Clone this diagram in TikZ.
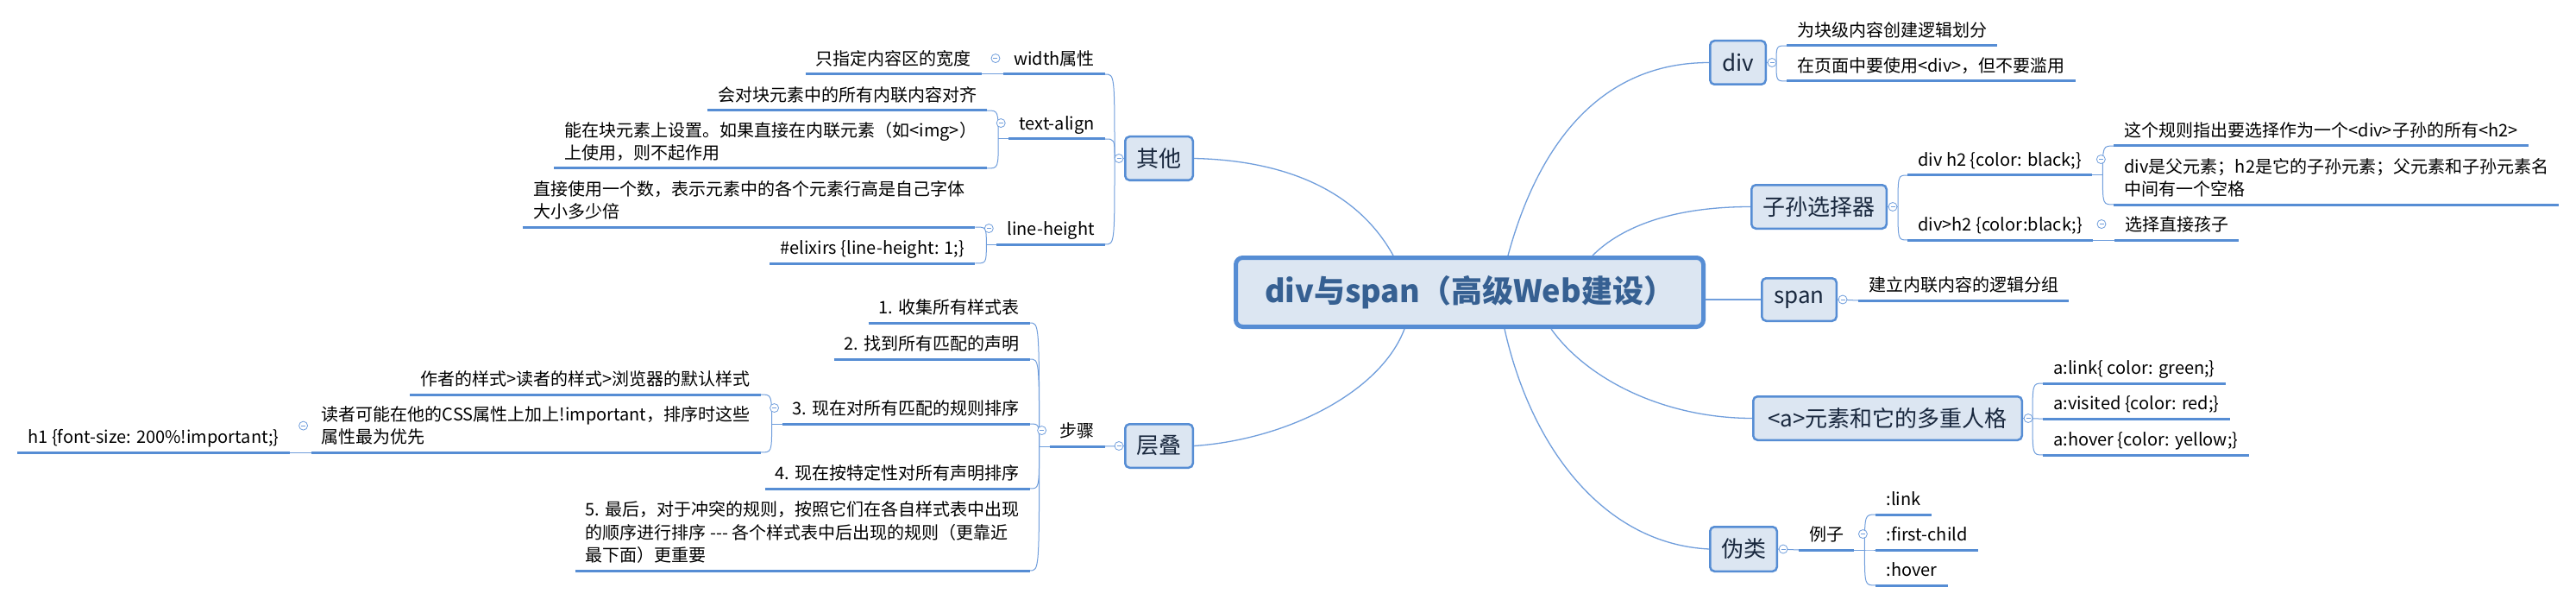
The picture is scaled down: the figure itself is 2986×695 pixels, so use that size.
\documentclass[tikz,border=0pt]{standalone}
\usepackage{fontspec}
\setmainfont{Noto Sans CJK SC}
\usetikzlibrary{calc}
\definecolor{ublue}{RGB}{86,141,212}
\definecolor{lblue}{RGB}{112,158,220}
\definecolor{boxfill}{RGB}{220,230,242}
\definecolor{ctext}{RGB}{54,96,146}
\definecolor{mtext}{RGB}{25,40,62}
\begin{document}
\begin{tikzpicture}[x=1pt,y=-1pt,
  central/.style={draw=ublue, line width=5pt, fill=boxfill, rounded corners=8pt, minimum width=542pt, minimum height=80pt, inner sep=0pt, text=ctext, font=\fontsize{36}{40}\selectfont\bfseries},
  mainbox/.style={draw=ublue, line width=2.5pt, fill=boxfill, rounded corners=5pt, minimum height=50.5pt, inner sep=0pt, text=mtext, font=\fontsize{26}{30}\selectfont},
  leaf/.style={inner xsep=12pt, inner ysep=2pt, align=left, text=black, font=\fontsize{20}{26.5}\selectfont, execute at begin node=\strut, execute at end node=\strut},
  leafR/.style={leaf, anchor=south west},
  leafL/.style={leaf, anchor=south east},
  uline/.style={draw=ublue, line width=3pt},
  conn/.style={draw=lblue, line width=1.3pt},
  brk/.style={draw=lblue, line width=1pt},
  fold/.style={circle, draw=lblue, fill=white, line width=0.8pt, minimum size=10pt, inner sep=0pt,
    path picture={\draw[lblue, line width=0.8pt] ([xshift=-2.5pt]path picture bounding box.center) -- ([xshift=2.5pt]path picture bounding box.center);}}
]
\useasboundingbox (0,0) rectangle (2986,695);
\fill[white] (0,0) rectangle (2986,695);

% central and main topics
\node[central] (c) at (1703.5,338.5) {div与span（高级Web建设）};
\node[mainbox, minimum width=78.5pt] (qt) at (1343.5,183.5) {其他};
\node[mainbox, minimum width=78.5pt] (cd) at (1343.5,516.5) {层叠};
\node[mainbox, minimum width=64.5pt] (dv) at (2014.5,72.5) {div};
\node[mainbox, minimum width=156.5pt] (zs) at (2108.5,239.5) {子孙选择器};
\node[mainbox, minimum width=86.5pt, minimum height=49.5pt] (sp) at (2085.5,347) {span};
\node[mainbox, minimum width=311.5pt] (ae) at (2188,484.5) {<a>元素和它的多重人格};
\node[mainbox, minimum width=77.5pt, minimum height=51.5pt] (wl) at (2021,636) {伪类};

% right side leaves
\node[leafR] (d1) at (2071,53) {为块级内容创建逻辑划分};
\node[leafR] (d2) at (2071,94) {在页面中要使用<div>，但不要滥用};
\node[leafR] (s1) at (2211,203) {div h2 \{color: black;\}};
\node[leafR] (s2) at (2211,278) {div>h2 \{color:black;\}};
\path (s1.south east) ++(25,0) coordinate (s1e);
\path (s2.south east) ++(25,0) coordinate (s2e);
\node[leafR] (s11) at (s1e |- 0,169) {这个规则指出要选择作为一个<div>子孙的所有<h2>};
\node[leafR] (s12) at (s1e |- 0,237) {div是父元素；h2是它的子孙元素；父元素和子孙元素名\\中间有一个空格};
\node[leafR] (s21) at (s2e |- 0,278) {选择直接孩子};
\node[leafR] (sp1) at (2154,348) {建立内联内容的逻辑分组};
\node[leafR] (a1) at (2368,444) {a:link\{ color: green;\}};
\node[leafR] (a2) at (2368,485) {a:visited \{color: red;\}};
\node[leafR] (a3) at (2368,527) {a:hover \{color: yellow;\}};
\node[leafR] (w1) at (2085,637) {例子};
\path (w1.south east) ++(25,0) coordinate (w1e);
\node[leafR] (w11) at (w1e |- 0,596) {:link};
\node[leafR] (w12) at (w1e |- 0,637) {:first-child};
\node[leafR] (w13) at (w1e |- 0,678) {:hover};

% left side leaves
\node[leafL] (q1) at (1281,86) {width属性};
\node[leafL] (q2) at (1281,161) {text-align};
\node[leafL] (q3) at (1281,283) {line-height};
\path (q1.south west) ++(-25,0) coordinate (q1w);
\path (q2.south west) ++(-25,0) coordinate (q2w);
\path (q3.south west) ++(-25,0) coordinate (q3w);
\node[leafL] (q11) at (q1w |- 0,86) {只指定内容区的宽度};
\node[leafL] (q21) at (q2w |- 0,128) {会对块元素中的所有内联内容对齐};
\node[leafL] (q22) at (q2w |- 0,195) {能在块元素上设置。如果直接在内联元素（如<img>）\\上使用，则不起作用};
\node[leafL] (q31) at (q3w |- 0,263) {直接使用一个数，表示元素中的各个元素行高是自己字体\\大小多少倍};
\node[leafL] (q32) at (q3w |- 0,305) {\#elixirs \{line-height: 1;\}};

\node[leafL] (c1) at (1281,517) {步骤};
\path (c1.south west) ++(-23,0) coordinate (c1w);
\node[leafL] (c11) at (c1w |- 0,374) {1. 收集所有样式表};
\node[leafL] (c12) at (c1w |- 0,416) {2. 找到所有匹配的声明};
\node[leafL] (c13) at (c1w |- 0,491) {3. 现在对所有匹配的规则排序};
\node[leafL] (c14) at (c1w |- 0,566) {4. 现在按特定性对所有声明排序};
\node[leafL] (c15) at (c1w |- 0,661) {5. 最后，对于冲突的规则，按照它们在各自样式表中出现\\的顺序进行排序 -{}-{}- 各个样式表中后出现的规则（更靠近\\最下面）更重要};
\path (c13.south west) ++(-25,0) coordinate (c13w);
\node[leafL] (c131) at (c13w |- 0,457) {作者的样式>读者的样式>浏览器的默认样式};
\node[leafL] (c132) at (c13w |- 0,524) {读者可能在他的CSS属性上加上!important，排序时这些\\属性最为优先};
\path (c132.south west) ++(-25,0) coordinate (c132w);
\node[leafL] (c1321) at (c132w |- 0,524) {h1 \{font-size: 200\%!important;\}};

% main connectors
\coordinate (ct1) at ([xshift=185pt]c.north west);
\coordinate (ct2) at ([xshift=318pt]c.north west);
\coordinate (ct3) at ([xshift=416pt]c.north west);
\coordinate (cb1) at ([xshift=198pt]c.south west);
\coordinate (cb2) at ([xshift=314pt]c.south west);
\coordinate (cb3) at ([xshift=368pt]c.south west);
\coordinate (cr) at (c.east |- sp.west);
\draw[conn] (ct1) .. controls +(-45,-81) and +(96,2) .. (qt.east);
\draw[conn] (ct2) .. controls +(37,-136) and +(-121,0) .. (dv.west);
\draw[conn] (ct3) .. controls +(34,-34) and +(-89,0) .. (zs.west);
\draw[conn] (cr) -- (sp.west);
\draw[conn] (cb1) .. controls +(-28,74) and +(106,-7) .. (cd.east);
\draw[conn] (cb2) .. controls +(31,139) and +(-121,-6) .. (wl.west);
\draw[conn] (cb3) .. controls +(42,59) and +(-101,0) .. (ae.west);

% brackets right
\coordinate (dvj) at ([xshift=11pt]dv.east);
\draw[brk] (dv.east) -- (dvj);
\foreach \n in {d1,d2} \draw[brk] (dvj) .. controls (dvj |- \n.south west) .. (\n.south west);
\coordinate (zsj) at ([xshift=12pt]zs.east);
\draw[brk] (zs.east) -- (zsj);
\foreach \n in {s1,s2} \draw[brk] (zsj) .. controls (zsj |- \n.south west) .. (\n.south west);
\coordinate (s1j) at ([xshift=12pt]s1.south east);
\draw[brk] (s1.south east) -- (s1j);
\foreach \n in {s11,s12} \draw[brk] (s1j) .. controls (s1j |- \n.south west) .. (\n.south west);
\draw[brk] (s2.south east) -- (s21.south west);
\draw[brk] (sp.east) -- (sp1.south west);
\coordinate (aej) at ([xshift=11pt]ae.east);
\draw[brk] (ae.east) -- (aej);
\foreach \n in {a1,a2,a3} \draw[brk] (aej) .. controls (aej |- \n.south west) .. (\n.south west);
\draw[brk] (wl.east) -- (w1.south west);
\coordinate (w1j) at ([xshift=12pt]w1.south east);
\draw[brk] (w1.south east) -- (w1j);
\foreach \n in {w11,w12,w13} \draw[brk] (w1j) .. controls (w1j |- \n.south west) .. (\n.south west);

% brackets left
\coordinate (qtj) at ([xshift=-11pt]qt.west);
\draw[brk] (qt.west) -- (qtj);
\foreach \n in {q1,q2,q3} \draw[brk] (qtj) .. controls (qtj |- \n.south east) .. (\n.south east);
\draw[brk] (q1.south west) -- (q11.south east);
\coordinate (q2j) at ([xshift=-12pt]q2.south west);
\draw[brk] (q2.south west) -- (q2j);
\foreach \n in {q21,q22} \draw[brk] (q2j) .. controls (q2j |- \n.south east) .. (\n.south east);
\coordinate (q3j) at ([xshift=-12pt]q3.south west);
\draw[brk] (q3.south west) -- (q3j);
\foreach \n in {q31,q32} \draw[brk] (q3j) .. controls (q3j |- \n.south east) .. (\n.south east);
\draw[brk] (cd.west) -- (c1.south east);
\coordinate (c1j) at ([xshift=-12pt]c1.south west);
\draw[brk] (c1.south west) -- (c1j);
\foreach \n in {c11,c12,c13,c14,c15} \draw[brk] (c1j) .. controls (c1j |- \n.south east) .. (\n.south east);
\coordinate (c13j) at ([xshift=-12pt]c13.south west);
\draw[brk] (c13.south west) -- (c13j);
\foreach \n in {c131,c132} \draw[brk] (c13j) .. controls (c13j |- \n.south east) .. (\n.south east);
\draw[brk] (c132.south west) -- (c1321.south east);

% underlines
\foreach \n in {d1,d2,s1,s2,s11,s12,s21,sp1,a1,a2,a3,w1,w11,w12,w13,q1,q2,q3,q11,q21,q22,q31,q32,c1,c11,c12,c13,c14,c15,c131,c132,c1321}
  \draw[uline] (\n.south west) -- (\n.south east);

% collapse markers
\node[fold] (fdv) at ([xshift=6pt]dv.east) {};
\node[fold] (fzs) at ([xshift=6pt]zs.east) {};
\node[fold] (fsp) at ([xshift=6pt]sp.east) {};
\node[fold] (fae) at ([xshift=6pt]ae.east) {};
\node[fold] (fwl) at ([xshift=6pt]wl.east) {};
\node[fold] (fqt) at ([xshift=-6pt]qt.west) {};
\node[fold] (fcd) at ([xshift=-6pt]cd.west) {};
\node[fold] (fs1) at ([xshift=10pt,yshift=3pt]s1.east) {};
\node[fold] (fs2) at ([xshift=10pt,yshift=3pt]s2.east) {};
\node[fold] (fw1) at ([xshift=10pt,yshift=3pt]w1.east) {};
\node[fold] (fq1) at ([xshift=-9pt,yshift=3pt]q1.west) {};
\node[fold] (fq2) at ([xshift=-9pt,yshift=3pt]q2.west) {};
\node[fold] (fq3) at ([xshift=-9pt,yshift=3pt]q3.west) {};
\node[fold] (fc1) at ([xshift=-9pt,yshift=3pt]c1.west) {};
\node[fold] (fc13) at ([xshift=-9pt,yshift=3pt]c13.west) {};
\node[fold] (fc132) at ([xshift=-9pt,yshift=3pt]c132.west) {};
\end{tikzpicture}
\end{document}
